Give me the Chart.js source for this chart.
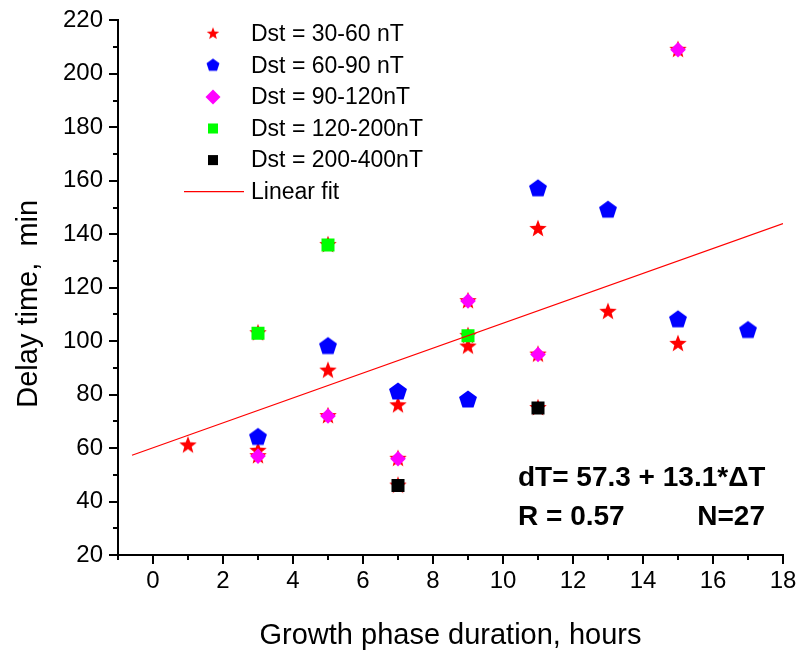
<!DOCTYPE html>
<html>
<head>
<meta charset="utf-8">
<script src="https://cdn.jsdelivr.net/npm/chart.js@4.4.1/dist/chart.umd.min.js"></script>
<style>
  html, body { margin: 0; padding: 0; background: #ffffff; }
  #wrap { width: 806px; height: 653px; }
</style>
</head>
<body>
<div id="wrap"><canvas id="chart" width="806" height="653"></canvas></div>
<script>
// Storm events: growth phase duration (hours) vs. delay time (min), grouped by Dst range
const dstLabels = ['Dst = 30-60 nT', 'Dst = 60-90 nT', 'Dst = 90-120nT', 'Dst = 120-200nT', 'Dst = 200-400nT'];
const fitLabel = 'Linear fit';

const hours30to60 = [1, 3, 5, 7, 9, 11, 13, 15];
const delay30to60 = [61, 59, 89, 76, 98, 142, 111, 99];

const hours60to90 = [3, 5, 7, 9, 11, 13, 15, 17];
const delay60to90 = [64, 98, 81, 78, 157, 149, 108, 104];

const hours90to120 = [3, 5, 7, 9, 11, 15];
const delay90to120 = [57, 72, 56, 115, 95, 209];

const hours120to200 = [3, 5, 9];
const delay120to200 = [103, 136, 102];

const hours200to400 = [7, 11];
const delay200to400 = [46, 75];

// Regression line end points
const fitHours = [-0.6, 18];
const fitDelay = [57.3, 144];

// Axis ranges and tick steps
const xRange = [-1, 18];
const yRange = [20, 220];
const xMajorStep = 2, xMinorStep = 1;
const yMajorStep = 20, yMinorStep = 10;

// Fit statistics printed on the plot
const fitText = ['dT= 57.3 + 13.1*\u0394T', 'R = 0.57', 'N=27'];

const FONT = "'Liberation Sans', Arial, Helvetica, sans-serif";

function toPoints(xs, ys) { return xs.map((x, i) => ({ x: x, y: ys[i] })); }

// Filled star / pentagon markers rendered once to small canvases
function makeMarker(kind, r, color) {
  const s = 2 * Math.ceil(r + 2);
  const cv = document.createElement('canvas');
  cv.width = s; cv.height = s;
  const g = cv.getContext('2d');
  g.translate(s / 2, s / 2);
  g.fillStyle = color;
  g.beginPath();
  if (kind === 'star') {
    for (let i = 0; i < 10; i++) {
      const a = -Math.PI / 2 + i * Math.PI / 5;
      const rr = (i % 2) ? r * 0.42 : r;
      g.lineTo(rr * Math.cos(a), rr * Math.sin(a));
    }
  } else {
    for (let i = 0; i < 5; i++) {
      const a = -Math.PI / 2 + i * 2 * Math.PI / 5;
      g.lineTo(r * Math.cos(a), r * Math.sin(a));
    }
  }
  g.closePath();
  g.fill();
  return cv;
}

const RED = '#ff0000', BLUE = '#0000ff', MAGENTA = '#ff00ff', GREEN = '#00ff00', BLACK = '#000000';

const starBig = makeMarker('star', 9.2, RED);
const starSmall = makeMarker('star', 6.6, RED);
const pentBig = makeMarker('pentagon', 9.4, BLUE);
const pentSmall = makeMarker('pentagon', 6.8, BLUE);

// Red stars also sit underneath every marker of the stronger-storm groups
const backHours = hours90to120.concat(hours120to200, hours200to400);
const backDelay = delay90to120.concat(delay120to200, delay200to400);

const datasets = [
  { label: dstLabels[0], data: toPoints(hours30to60, delay30to60), pointStyle: starBig,
    backgroundColor: RED, borderColor: RED, order: 5, legendStyle: starSmall, legendRadius: 7 },
  { label: dstLabels[1], data: toPoints(hours60to90, delay60to90), pointStyle: pentBig,
    backgroundColor: BLUE, borderColor: BLUE, order: 4, legendStyle: pentSmall, legendRadius: 7 },
  { label: dstLabels[2], data: toPoints(hours90to120, delay90to120), pointStyle: 'rectRot', pointRadius: 7.8,
    backgroundColor: MAGENTA, borderColor: MAGENTA, borderWidth: 0, order: 3, legendStyle: 'rectRot', legendRadius: 7.5 },
  { label: dstLabels[3], data: toPoints(hours120to200, delay120to200), pointStyle: 'rect', pointRadius: 9.2,
    backgroundColor: GREEN, borderColor: GREEN, borderWidth: 0, order: 2, legendStyle: 'rect', legendRadius: 7.1 },
  { label: dstLabels[4], data: toPoints(hours200to400, delay200to400), pointStyle: 'rect', pointRadius: 9.2,
    backgroundColor: BLACK, borderColor: BLACK, borderWidth: 0, order: 1, legendStyle: 'rect', legendRadius: 7.1 },
  { label: fitLabel, type: 'line', data: toPoints(fitHours, fitDelay), borderColor: RED, borderWidth: 1.2,
    pointRadius: 0, fill: false, order: 0, legendLine: true },
  { label: '', data: toPoints(backHours, backDelay), pointStyle: starBig,
    backgroundColor: RED, borderColor: RED, order: 6 }
];

// Legend drawn inside the plot area, upper left
const insideLegend = {
  id: 'insideLegend',
  afterDraw(chart) {
    const { ctx, chartArea } = chart;
    const symX = chartArea.left + 95;
    const textX = chartArea.left + 133;
    const rowY0 = chartArea.top + 13.3;
    const rowStep = 31.6;
    ctx.save();
    ctx.font = '23px ' + FONT;
    ctx.fillStyle = '#000';
    ctx.textAlign = 'left';
    ctx.textBaseline = 'middle';
    let row = 0;
    chart.data.datasets.forEach(ds => {
      if (!ds.label) return;
      const y = rowY0 + row * rowStep;
      if (ds.legendLine) {
        ctx.save();
        ctx.strokeStyle = ds.borderColor;
        ctx.lineWidth = ds.borderWidth;
        ctx.beginPath();
        ctx.moveTo(chartArea.left + 66, y);
        ctx.lineTo(chartArea.left + 126, y);
        ctx.stroke();
        ctx.restore();
      } else {
        ctx.save();
        ctx.fillStyle = ds.backgroundColor;
        ctx.strokeStyle = ds.backgroundColor;
        ctx.lineWidth = 0;
        Chart.helpers.drawPoint(ctx, { pointStyle: ds.legendStyle, radius: ds.legendRadius, rotation: 0, borderWidth: 0 }, symX, y);
        ctx.restore();
      }
      ctx.fillText(ds.label, textX, y + 1);
      row++;
    });
    ctx.restore();
  }
};

// Minor ticks between the labelled ones
const minorTicks = {
  id: 'minorTicks',
  afterDraw(chart) {
    const { ctx } = chart;
    const xs = chart.scales.x, ys = chart.scales.y;
    ctx.save();
    ctx.strokeStyle = '#000';
    ctx.lineWidth = 2;
    ctx.beginPath();
    for (let v = xRange[0]; v <= xRange[1] + 1e-9; v += xMinorStep) {
      if (Math.abs(v % xMajorStep) < 1e-9) continue;
      const px = Math.round(xs.getPixelForValue(v));
      ctx.moveTo(px, xs.top);
      ctx.lineTo(px, xs.top + 5);
    }
    for (let v = yRange[0]; v <= yRange[1] + 1e-9; v += yMinorStep) {
      if (Math.abs(v % yMajorStep) < 1e-9) continue;
      const py = Math.round(ys.getPixelForValue(v));
      ctx.moveTo(ys.right, py);
      ctx.lineTo(ys.right - 5, py);
    }
    ctx.stroke();
    ctx.restore();
  }
};

// Regression statistics, bold, lower right
const fitStats = {
  id: 'fitStats',
  afterDraw(chart) {
    const { ctx, chartArea } = chart;
    ctx.save();
    ctx.font = 'bold 28px ' + FONT;
    ctx.fillStyle = '#000';
    ctx.textBaseline = 'alphabetic';
    ctx.textAlign = 'left';
    ctx.fillText(fitText[0], chartArea.left + 400, chartArea.top + 466);
    ctx.fillText(fitText[1], chartArea.left + 400, chartArea.top + 505);
    ctx.textAlign = 'right';
    ctx.fillText(fitText[2], chartArea.left + 647, chartArea.top + 505);
    ctx.restore();
  }
};

new Chart(document.getElementById('chart'), {
  type: 'scatter',
  data: { datasets: datasets },
  options: {
    responsive: false,
    animation: false,
    events: [],
    layout: { padding: { top: 20, right: 23, left: 0, bottom: 0 } },
    plugins: { legend: { display: false }, tooltip: { enabled: false } },
    scales: {
      x: {
        type: 'linear',
        min: xRange[0], max: xRange[1],
        border: { display: true, color: '#000', width: 2 },
        grid: { drawOnChartArea: false, drawTicks: true, tickLength: 9, color: '#000', lineWidth: 2, tickColor: '#000', tickWidth: 2 },
        ticks: { stepSize: xMajorStep, includeBounds: false, color: '#000', padding: 3, maxRotation: 0,
                 font: { family: FONT, size: 24 } },
        title: { display: true, text: 'Growth phase duration, hours', color: '#000',
                 font: { family: FONT, size: 29 }, padding: { top: 4, bottom: 0 } },
        afterFit(scale) { scale.height = 98; }
      },
      y: {
        type: 'linear',
        min: yRange[0], max: yRange[1],
        border: { display: true, color: '#000', width: 2 },
        grid: { drawOnChartArea: false, drawTicks: true, tickLength: 9, color: '#000', lineWidth: 2, tickColor: '#000', tickWidth: 2 },
        ticks: { stepSize: yMajorStep, color: '#000', padding: 6, font: { family: FONT, size: 24 } },
        title: { display: true, text: 'Delay time,  min    ', color: '#000',
                 font: { family: FONT, size: 29 }, padding: { top: 12, bottom: 0 } },
        afterFit(scale) { scale.width = 118; }
      }
    }
  },
  plugins: [minorTicks, insideLegend, fitStats]
});
</script>
</body>
</html>
